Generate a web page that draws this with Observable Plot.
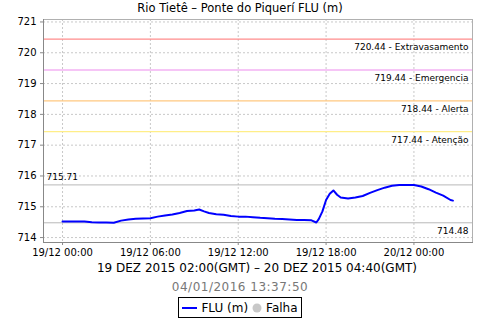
<!DOCTYPE html>
<html>
<head>
<meta charset="utf-8">
<script src="https://cdn.jsdelivr.net/npm/d3@7"></script>
<script src="https://cdn.jsdelivr.net/npm/@observablehq/plot@0.6"></script>
<style>
  html, body { margin: 0; padding: 0; background: #fff; }
  body { width: 480px; height: 320px; overflow: hidden; font-family: "DejaVu Sans", sans-serif; color: #000; }
  #title { height: 16px; line-height: 16px; font-size: 11.5px; text-align: center; }
  #chart { height: 243px; }
  #sub { height: 19px; line-height: 19px; font-size: 12px; text-align: center; padding-left: 34px; }
  #date { height: 19px; line-height: 19px; font-size: 12px; letter-spacing: 0.5px; text-align: center; color: #777; }
  #legend { display: flex; justify-content: center; }
  #legend .box { border: 1px solid #000; height: 19px; display: flex; align-items: center; padding: 0 3px; font-size: 12px; gap: 4px; }
</style>
</head>
<body>
<div id="title"></div>
<div id="chart"></div>
<div id="sub"></div>
<div id="date"></div>
<div id="legend"></div>
<script>
const titleText = "Rio Tietê – Ponte do Piquerí FLU (m)";
const subtitleText = "19 DEZ 2015 02:00(GMT) – 20 DEZ 2015 04:40(GMT)";
const dateText = "04/01/2016 13:37:50";
const seriesName = "FLU (m)";
const failName = "Falha";

const times = [
  "2015-12-19 00:00","2015-12-19 00:30","2015-12-19 01:00","2015-12-19 01:30",
  "2015-12-19 02:00","2015-12-19 02:30","2015-12-19 03:00","2015-12-19 03:30",
  "2015-12-19 04:00","2015-12-19 04:30","2015-12-19 05:00","2015-12-19 05:30",
  "2015-12-19 06:00","2015-12-19 06:30","2015-12-19 07:00","2015-12-19 07:30",
  "2015-12-19 08:00","2015-12-19 08:30","2015-12-19 09:00","2015-12-19 09:20",
  "2015-12-19 09:40","2015-12-19 10:00","2015-12-19 10:30","2015-12-19 11:00",
  "2015-12-19 11:30","2015-12-19 12:00","2015-12-19 12:30","2015-12-19 13:00",
  "2015-12-19 13:30","2015-12-19 14:00","2015-12-19 14:30","2015-12-19 15:00",
  "2015-12-19 15:30","2015-12-19 16:00","2015-12-19 16:30","2015-12-19 17:00",
  "2015-12-19 17:20","2015-12-19 17:30","2015-12-19 17:45","2015-12-19 18:00",
  "2015-12-19 18:15","2015-12-19 18:30","2015-12-19 18:45","2015-12-19 19:00",
  "2015-12-19 19:30","2015-12-19 20:00","2015-12-19 20:30","2015-12-19 21:00",
  "2015-12-19 21:30","2015-12-19 22:00","2015-12-19 22:30","2015-12-19 23:00",
  "2015-12-19 23:30","2015-12-20 00:00","2015-12-20 00:30","2015-12-20 01:00",
  "2015-12-20 01:30","2015-12-20 02:00","2015-12-20 02:30","2015-12-20 02:40"
];
const levels = [
  714.52,714.52,714.52,714.52,
  714.50,714.49,714.49,714.48,
  714.55,714.59,714.61,714.62,
  714.63,714.68,714.72,714.75,
  714.80,714.86,714.88,714.91,
  714.85,714.80,714.76,714.74,
  714.70,714.68,714.68,714.66,
  714.64,714.63,714.61,714.60,
  714.59,714.57,714.57,714.56,
  714.49,714.60,714.85,715.22,
  715.42,715.53,715.39,715.30,
  715.27,715.30,715.35,715.45,
  715.54,715.62,715.68,715.71,
  715.71,715.71,715.66,715.57,
  715.46,715.36,715.22,715.20
];

const thresholdValues = [720.44, 719.44, 718.44, 717.44];
const thresholdNames = ["Extravasamento", "Emergencia", "Alerta", "Atenção"];
const thresholdColors = ["#ff8c8c", "#ee8cee", "#ffc880", "#ffee88"];

const xTickTimes = ["2015-12-19 00:00","2015-12-19 06:00","2015-12-19 12:00","2015-12-19 18:00","2015-12-20 00:00"];
const yTicks = [714, 715, 716, 717, 718, 719, 720, 721];
const xDomainTimes = ["2015-12-18 22:42", "2015-12-20 04:00"];
const yDomain = [713.84, 721.08];

const parse = d3.utcParse("%Y-%m-%d %H:%M");
const data = times.map((t, i) => ({t: parse(t), v: levels[i]}));
const thresholds = thresholdValues.map((v, i) => ({v, label: `${v.toFixed(2)} - ${thresholdNames[i]}`, color: thresholdColors[i]}));
const xTicks = xTickTimes.map(parse);
const maxV = d3.max(levels), minV = d3.min(levels);

document.getElementById("title").textContent = titleText;
document.getElementById("sub").textContent = subtitleText;
document.getElementById("date").textContent = dateText;

const chart = Plot.plot({
  width: 480,
  height: 243,
  marginTop: 3,
  marginLeft: 43,
  marginRight: 8,
  marginBottom: 17,
  style: {fontFamily: "DejaVu Sans", fontSize: "10px", color: "#000", background: "#fff"},
  x: {type: "utc", domain: xDomainTimes.map(parse), label: null},
  y: {domain: yDomain, label: null},
  marks: [
    Plot.gridX(xTicks, {stroke: "#c8c8c8", strokeOpacity: 1, strokeDasharray: "2,2"}),
    Plot.gridY(yTicks, {stroke: "#c8c8c8", strokeOpacity: 1, strokeDasharray: "2,2"}),
    Plot.ruleY(thresholds, {y: "v", stroke: "color", strokeWidth: 1.2}),
    Plot.text(thresholds, {y: "v", text: "label", frameAnchor: "right", textAnchor: "end", dx: -4, dy: 8, fontSize: 9, fill: "#000"}),
    Plot.ruleY([maxV, minV], {stroke: "#b8b8b8"}),
    Plot.text([maxV], {y: d => d, text: d => d.toFixed(2), frameAnchor: "left", textAnchor: "start", dx: 3, dy: -8, fontSize: 9, fill: "#000"}),
    Plot.text([minV], {y: d => d, text: d => d.toFixed(2), frameAnchor: "right", textAnchor: "end", dx: -4, dy: 8, fontSize: 9, fill: "#000"}),
    Plot.line(data, {x: "t", y: "v", stroke: "#0000ff", strokeWidth: 2}),
    Plot.frame({stroke: "#b0b0b0"}),
    Plot.frame({anchor: "left", stroke: "#888"}),
    Plot.frame({anchor: "bottom", stroke: "#888"}),
    Plot.axisX({ticks: xTicks, tickFormat: d3.utcFormat("%d/%m %H:%M"), tickSize: 3, tickPadding: 3, stroke: "#888", fill: "#000"}),
    Plot.axisY({ticks: yTicks, tickFormat: d => String(d), tickSize: 3, tickPadding: 4, stroke: "#888", fill: "#000"})
  ]
});
document.getElementById("chart").appendChild(chart);

const legend = document.getElementById("legend");
legend.innerHTML = `<div class="box">
  <svg width="15" height="10"><line x1="0" x2="15" y1="5" y2="5" stroke="#0000ff" stroke-width="2"/></svg>
  <span>${seriesName}</span>
  <svg width="10" height="10"><circle cx="5" cy="5" r="4.5" fill="#c8c8c8"/></svg>
  <span>${failName}</span>
</div>`;
</script>
</body>
</html>
